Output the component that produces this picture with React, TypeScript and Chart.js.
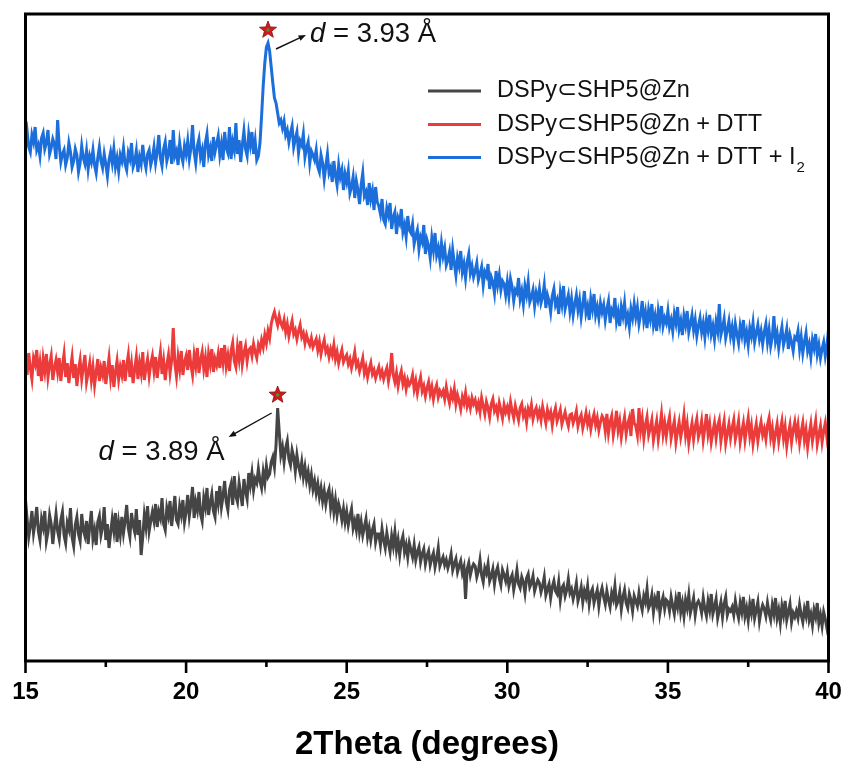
import React, { useEffect, useRef } from 'react';
import { Chart, registerables } from 'chart.js';

Chart.register(...registerables);

// 2θ scan: 15° to 40° in 0.05° steps (501 points per pattern)
const THETA_START = 15;
const THETA_STEP = 0.05;

const X_TICKS = [15, 20, 25, 30, 35, 40];
const X_MINOR_TICKS = [17.5, 22.5, 27.5, 32.5, 37.5];
const X_TITLE = '2Theta (degrees)';

const SERIES_NAMES = ['DSPy⊂SHP5@Zn', 'DSPy⊂SHP5@Zn + DTT', 'DSPy⊂SHP5@Zn + DTT + I'];
const SERIES_SUBSCRIPTS = ['', '', '2'];
const SERIES_COLORS = ['#454545', '#ec3b3b', '#1c6fdb'];

// Offset intensities (a.u.), one row per degree
const znPattern = [
  161, 142, 124, 135, 150, 128, 139, 154, 130, 121, 142, 134, 150, 120, 129, 146, 137, 117, 133, 147,
  130, 122, 141, 149, 126, 118, 138, 132, 153, 124, 115, 136, 144, 127, 120, 147, 131, 125, 140, 117,
  135, 150, 122, 131, 116, 139, 145, 126, 134, 154, 121, 137, 113, 128, 142, 130, 148, 119, 138, 126,
  144, 128, 140, 156, 133, 124, 148, 136, 129, 152, 126, 141, 106, 124, 146, 134, 155, 130, 140, 149,
  140, 157, 134, 149, 143, 163, 137, 131, 153, 145, 160, 135, 150, 165, 141, 137, 155, 146, 161, 139,
  149, 166, 145, 157, 174, 143, 159, 151, 169, 147, 140, 163, 154, 173, 146, 158, 167, 150, 144, 170,
  158, 175, 154, 165, 180, 159, 151, 171, 177, 156, 185, 165, 159, 178, 167, 155, 182, 170, 162, 188,
  176, 188, 171, 182, 178, 192, 180, 173, 189, 178, 195, 184, 187, 199, 204, 194, 216, 253, 229, 206,
  214, 199, 213, 220, 202, 196, 211, 204, 190, 206, 195, 188, 199, 184, 194, 181, 189, 176, 186, 172,
  180, 168, 177, 164, 173, 160, 170, 157, 167, 172, 153, 164, 149, 161, 146, 157, 151, 141, 152, 139,
  149, 136, 145, 152, 133, 140, 131, 147, 129, 139, 126, 134, 142, 124, 133, 121, 131, 137, 119, 127,
  127, 116, 132, 121, 113, 128, 118, 109, 125, 115, 129, 111, 121, 106, 119, 125, 109, 116, 104, 118,
  111, 104, 116, 101, 109, 114, 99, 107, 112, 97, 105, 110, 96, 103, 108, 94, 102, 113, 95, 100,
  104, 96, 101, 93, 99, 107, 91, 97, 102, 89, 95, 100, 88, 94, 62, 92, 98, 86, 93, 97,
  95, 84, 90, 101, 86, 79, 93, 88, 97, 80, 85, 92, 77, 89, 94, 83, 76, 91, 86, 80,
  89, 75, 82, 86, 71, 80, 91, 77, 73, 84, 79, 68, 83, 87, 74, 78, 85, 70, 76, 81,
  78, 69, 75, 84, 66, 72, 77, 63, 74, 80, 70, 67, 79, 61, 73, 76, 65, 71, 82, 68,
  72, 62, 69, 78, 60, 66, 74, 59, 70, 64, 75, 57, 68, 72, 58, 65, 71, 55, 67, 73,
  64, 57, 70, 61, 54, 68, 62, 75, 56, 60, 69, 52, 64, 71, 58, 53, 67, 61, 50, 65,
  60, 55, 68, 58, 51, 65, 59, 72, 53, 57, 66, 49, 62, 56, 70, 48, 58, 64, 52, 61,
  59, 50, 64, 55, 47, 62, 54, 69, 49, 58, 45, 61, 53, 66, 48, 55, 63, 46, 57, 60,
  56, 48, 63, 52, 45, 60, 51, 67, 47, 54, 62, 43, 51, 59, 44, 57, 64, 46, 52, 50,
  54, 46, 60, 50, 43, 58, 49, 64, 45, 53, 41, 57, 48, 62, 43, 51, 59, 40, 50, 56,
  52, 45, 58, 48, 41, 56, 47, 63, 43, 51, 38, 55, 46, 60, 41, 49, 57, 39, 48, 44,
  50, 43, 56, 46, 39, 52, 45, 60, 41, 47, 36, 51, 44, 58, 38, 46, 35, 49, 42, 33,
  40,
];

const dttPattern = [
  300, 286, 308, 293, 282, 303, 297, 311, 285, 298, 280, 302, 290, 307, 284, 296, 305, 281, 293, 301,
  289, 303, 280, 295, 307, 284, 298, 278, 292, 304, 283, 297, 275, 291, 301, 282, 294, 306, 279, 288,
  298, 281, 294, 276, 289, 302, 280, 293, 286, 300, 277, 290, 303, 283, 296, 274, 289, 300, 282, 294,
  286, 301, 280, 295, 306, 284, 297, 278, 292, 304, 282, 298, 288, 309, 281, 293, 302, 285, 297, 305,
  290, 304, 283, 297, 309, 287, 300, 281, 296, 306, 288, 301, 333, 298, 285, 304, 292, 310, 286, 299,
  305, 291, 311, 296, 286, 306, 295, 313, 288, 301, 309, 292, 303, 284, 307, 297, 312, 289, 302, 296,
  307, 293, 313, 299, 316, 295, 305, 290, 310, 318, 300, 294, 314, 302, 320, 297, 308, 315, 300, 311,
  313, 305, 317, 309, 303, 316, 311, 321, 314, 326, 318, 330, 323, 337, 344, 349, 342, 336, 345, 338,
  334, 341, 329, 337, 325, 333, 340, 327, 331, 322, 330, 336, 324, 328, 318, 326, 320, 316, 323, 314,
  318, 322, 311, 319, 307, 315, 321, 309, 313, 304, 312, 306, 316, 302, 309, 298, 305, 311, 299, 303,
  306, 297, 302, 293, 300, 309, 295, 299, 290, 296, 303, 288, 294, 284, 292, 298, 287, 291, 283, 289,
  294, 285, 290, 282, 288, 293, 280, 289, 308, 286, 279, 288, 275, 284, 290, 277, 283, 272, 281, 276,
  279, 286, 272, 280, 268, 277, 284, 270, 275, 265, 273, 279, 267, 274, 262, 271, 276, 264, 270, 266,
  270, 262, 274, 265, 258, 269, 263, 272, 257, 266, 260, 252, 264, 258, 268, 255, 261, 253, 263, 257,
  261, 252, 258, 249, 263, 255, 247, 259, 253, 244, 257, 262, 250, 254, 246, 258, 251, 243, 256, 249,
  254, 246, 259, 250, 243, 255, 248, 241, 253, 257, 245, 250, 239, 252, 247, 256, 242, 249, 253, 244,
  250, 241, 254, 246, 238, 251, 244, 249, 236, 247, 253, 240, 245, 251, 237, 243, 249, 241, 235, 246,
  247, 238, 243, 250, 235, 242, 246, 233, 240, 248, 237, 244, 232, 241, 247, 236, 243, 231, 239, 245,
  242, 230, 247, 228, 239, 245, 226, 236, 250, 231, 240, 224, 235, 244, 227, 237, 243, 225, 252, 238,
  235, 226, 253, 231, 242, 223, 236, 244, 226, 233, 241, 221, 231, 240, 222, 234, 247, 227, 238, 225,
  236, 244, 223, 232, 240, 219, 230, 239, 224, 233, 246, 226, 237, 218, 229, 238, 222, 234, 242, 224,
  230, 240, 221, 233, 247, 227, 237, 219, 229, 238, 223, 235, 241, 220, 231, 240, 218, 228, 237, 223,
  233, 241, 222, 230, 240, 219, 229, 238, 221, 233, 243, 225, 235, 217, 228, 237, 220, 231, 239, 226,
  232, 222, 236, 243, 224, 233, 217, 228, 237, 220, 231, 240, 223, 234, 215, 227, 236, 219, 231, 239,
  226, 236, 218, 229, 238, 221, 231, 214, 227, 237, 220, 230, 240, 217, 226, 235, 219, 230, 238, 224,
  236,
];

const dttI2Pattern = [
  521, 530, 514, 509, 526, 519, 534, 511, 516, 505, 523, 528, 512, 518, 531, 507, 513, 522, 517, 502,
  541, 515, 499, 507, 511, 496, 503, 518, 509, 494, 500, 512, 506, 489, 498, 515, 503, 497, 510, 492,
  505, 499, 511, 496, 488, 503, 514, 500, 493, 507, 497, 485, 501, 509, 498, 512, 494, 503, 490, 506,
  500, 513, 497, 491, 508, 502, 518, 494, 499, 510, 489, 504, 497, 516, 501, 493, 507, 511, 496, 503,
  514, 498, 509, 526, 503, 495, 512, 519, 500, 507, 521, 497, 531, 505, 510, 496, 518, 506, 499, 515,
  507, 520, 502, 513, 536, 509, 498, 515, 522, 504, 511, 494, 518, 527, 506, 513, 500, 524, 509, 517,
  525, 506, 517, 501, 529, 513, 508, 534, 502, 519, 511, 538, 507, 521, 499, 516, 530, 512, 505, 527,
  516, 529, 507, 520, 501, 505, 518, 545, 575, 598, 614, 618, 610, 594, 578, 563, 558, 548, 538, 541,
  533, 540, 526, 531, 519, 528, 535, 514, 522, 529, 508, 520, 516, 527, 504, 513, 519, 498, 510, 506,
  501, 511, 494, 489, 506, 498, 482, 495, 507, 488, 493, 479, 500, 486, 476, 496, 484, 491, 471, 487,
  479, 490, 468, 474, 484, 463, 480, 471, 457, 476, 488, 465, 469, 456, 478, 462, 470, 451, 474, 459,
  455, 447, 462, 441, 437, 453, 446, 458, 432, 444, 449, 427, 443, 438, 452, 429, 436, 424, 445, 431,
  428, 437, 417, 425, 431, 412, 424, 419, 436, 407, 421, 415, 403, 423, 411, 428, 406, 413, 401, 418,
  405, 413, 396, 401, 409, 391, 411, 398, 386, 403, 395, 410, 389, 397, 383, 399, 407, 388, 395, 384,
  390, 398, 381, 387, 394, 376, 389, 385, 397, 372, 384, 379, 368, 390, 376, 386, 371, 380, 377, 366,
  379, 365, 382, 374, 360, 371, 368, 383, 362, 370, 357, 375, 366, 379, 359, 364, 371, 355, 368, 361,
  372, 358, 364, 376, 353, 366, 360, 349, 365, 372, 356, 361, 347, 368, 357, 375, 352, 359, 366, 350,
  362, 346, 357, 366, 351, 361, 344, 356, 370, 348, 355, 341, 362, 352, 367, 346, 354, 343, 358, 349,
  356, 341, 352, 360, 338, 351, 347, 363, 340, 349, 335, 354, 345, 358, 339, 346, 334, 352, 343, 357,
  344, 354, 337, 346, 360, 340, 349, 333, 351, 342, 357, 336, 345, 330, 350, 339, 355, 335, 343, 338,
  350, 334, 341, 330, 347, 338, 354, 332, 340, 326, 345, 336, 350, 329, 337, 346, 331, 341, 325, 335,
  343, 329, 338, 324, 341, 331, 346, 327, 335, 322, 339, 330, 357, 326, 333, 342, 323, 331, 340, 325,
  334, 320, 337, 327, 318, 335, 326, 341, 321, 329, 316, 333, 325, 338, 319, 328, 336, 322, 330, 317,
  329, 337, 319, 331, 315, 324, 345, 320, 328, 313, 325, 334, 316, 323, 332, 312, 326, 319, 310, 324,
  322, 330, 312, 324, 308, 319, 328, 310, 317, 304, 321, 313, 327, 307, 316, 303, 312, 319, 305, 315,
  331,
];

const SERIES_VALUES = [znPattern, dttPattern, dttI2Pattern];

// Marked reflections: which pattern, its 2θ, and the d-spacing label
const PEAK_SERIES = [2, 0];
const PEAK_THETA = [22.55, 22.85];
const PEAK_D_LABELS = ['3.93', '3.89'];

const Y_MIN = 0;
const Y_MAX = 647;

const FONT = '"Liberation Sans", Arial, Helvetica, sans-serif';

// frame position inside the 845×767 canvas
const AREA_LEFT = 25.5;
const AREA_RIGHT = 828.5;
const AREA_TOP = 14;
const AREA_BOTTOM = 661;

function toPoints(values: number[]) {
  return values.map((y, i) => ({
    x: Math.round((THETA_START + i * THETA_STEP) * 100) / 100,
    y,
  }));
}

function drawStar(ctx: CanvasRenderingContext2D, cx: number, cy: number) {
  const outer = 9;
  const inner = 3.8;
  ctx.beginPath();
  for (let k = 0; k < 10; k++) {
    const r = k % 2 === 0 ? outer : inner;
    const a = -Math.PI / 2 + (k * Math.PI) / 5;
    const px = cx + r * Math.cos(a);
    const py = cy + r * Math.sin(a);
    if (k === 0) ctx.moveTo(px, py);
    else ctx.lineTo(px, py);
  }
  ctx.closePath();
  ctx.fillStyle = '#d4181c';
  ctx.fill();
  ctx.lineWidth = 0.8;
  ctx.strokeStyle = '#8a0c0c';
  ctx.stroke();
  ctx.beginPath();
  ctx.arc(cx, cy, 1.7, 0, Math.PI * 2);
  ctx.fillStyle = '#3f9a2f';
  ctx.fill();
}

function drawArrow(ctx: CanvasRenderingContext2D, x1: number, y1: number, x2: number, y2: number) {
  const ang = Math.atan2(y2 - y1, x2 - x1);
  const head = 8;
  ctx.strokeStyle = '#111';
  ctx.fillStyle = '#111';
  ctx.lineWidth = 1.4;
  ctx.beginPath();
  ctx.moveTo(x1, y1);
  ctx.lineTo(x2 - Math.cos(ang) * head * 0.8, y2 - Math.sin(ang) * head * 0.8);
  ctx.stroke();
  ctx.beginPath();
  ctx.moveTo(x2, y2);
  ctx.lineTo(x2 - head * Math.cos(ang - 0.38), y2 - head * Math.sin(ang - 0.38));
  ctx.lineTo(x2 - head * Math.cos(ang + 0.38), y2 - head * Math.sin(ang + 0.38));
  ctx.closePath();
  ctx.fill();
}

// "d = x.xx Å" with an italic d; align 'left' or 'right' relative to x
function drawDSpacing(ctx: CanvasRenderingContext2D, value: string, x: number, baseline: number, align: 'left' | 'right') {
  const italic = `italic 27.5px ${FONT}`;
  const upright = `27.5px ${FONT}`;
  const rest = ` = ${value} Å`;
  ctx.font = italic;
  const wD = ctx.measureText('d').width;
  ctx.font = upright;
  const wRest = ctx.measureText(rest).width;
  const start = align === 'left' ? x : x - wD - wRest;
  ctx.fillStyle = '#111';
  ctx.textAlign = 'left';
  ctx.textBaseline = 'alphabetic';
  ctx.font = italic;
  ctx.fillText('d', start, baseline);
  ctx.font = upright;
  ctx.fillText(rest, start + wD, baseline);
}

const decorPlugin = {
  id: 'xrdDecor',
  afterDatasetsDraw(chart: any) {
    const { ctx, chartArea: a, scales } = chart;
    const xs = scales.x;
    const ys = scales.y;
    ctx.save();

    // frame
    ctx.strokeStyle = '#000';
    ctx.lineWidth = 3;
    ctx.strokeRect(a.left, a.top, a.right - a.left, a.bottom - a.top);

    // outward ticks on the bottom axis
    ctx.lineWidth = 2.6;
    ctx.lineCap = 'butt';
    for (const v of X_TICKS) {
      const px = xs.getPixelForValue(v);
      ctx.beginPath();
      ctx.moveTo(px, a.bottom);
      ctx.lineTo(px, a.bottom + 12);
      ctx.stroke();
    }
    for (const v of X_MINOR_TICKS) {
      const px = xs.getPixelForValue(v);
      ctx.beginPath();
      ctx.moveTo(px, a.bottom);
      ctx.lineTo(px, a.bottom + 6);
      ctx.stroke();
    }

    // legend
    const lx0 = 428;
    const lx1 = 481;
    const tx = 497;
    const rows = [91, 124.5, 157.5];
    SERIES_NAMES.forEach((name, i) => {
      const y = rows[i];
      ctx.strokeStyle = SERIES_COLORS[i];
      ctx.lineWidth = 3;
      ctx.beginPath();
      ctx.moveTo(lx0, y);
      ctx.lineTo(lx1, y);
      ctx.stroke();
      ctx.fillStyle = '#111';
      ctx.font = `23.5px ${FONT}`;
      ctx.textAlign = 'left';
      ctx.textBaseline = 'middle';
      ctx.fillText(name, tx, y);
      if (SERIES_SUBSCRIPTS[i]) {
        const w = ctx.measureText(name).width;
        ctx.font = `15px ${FONT}`;
        ctx.fillText(SERIES_SUBSCRIPTS[i], tx + w + 1, y + 10);
      }
    });

    // marked reflections
    PEAK_SERIES.forEach((s, k) => {
      const theta = PEAK_THETA[k];
      const idx = Math.round((theta - THETA_START) / THETA_STEP);
      const px = xs.getPixelForValue(theta);
      const py = ys.getPixelForValue(SERIES_VALUES[s][idx]);
      const sx = px;
      const sy = py - 13;
      drawStar(ctx, sx, sy);
      if (k === 0) {
        drawArrow(ctx, sx + 8, sy + 19, sx + 38, sy + 5);
        drawDSpacing(ctx, PEAK_D_LABELS[k], sx + 42, sy + 12, 'left');
      } else {
        drawArrow(ctx, sx - 6, sy + 18, sx - 49, sy + 42);
        drawDSpacing(ctx, PEAK_D_LABELS[k], sx - 53, sy + 65, 'right');
      }
    });

    ctx.restore();
  },
};

export default function App() {
  const canvasRef = useRef<HTMLCanvasElement>(null);

  useEffect(() => {
    if (!canvasRef.current) return;
    const chart = new Chart(canvasRef.current, {
      type: 'line',
      data: {
        datasets: SERIES_NAMES.map((name, i) => ({
          label: name,
          data: toPoints(SERIES_VALUES[i]),
          borderColor: SERIES_COLORS[i],
          borderWidth: 3,
          pointRadius: 0,
          fill: false,
          tension: 0,
        })),
      },
      options: {
        animation: false,
        responsive: false,
        devicePixelRatio: 1,
        layout: {
          autoPadding: false,
          padding: { left: 0, right: 845 - AREA_RIGHT, top: AREA_TOP, bottom: 0 },
        },
        plugins: {
          legend: { display: false },
          tooltip: { enabled: false },
        },
        scales: {
          x: {
            type: 'linear',
            position: 'bottom',
            min: 15,
            max: 40,
            grid: { display: false, drawTicks: false },
            border: { display: false },
            ticks: {
              stepSize: 5,
              autoSkip: false,
              padding: 17,
              color: '#000',
              font: { family: FONT, size: 24, weight: 'bold' },
              callback: (v: any) => (X_TICKS.includes(Number(v)) ? String(v) : ''),
            },
            title: {
              display: true,
              text: X_TITLE,
              color: '#000',
              font: { family: FONT, size: 33, weight: 'bold' },
              padding: { top: 0, bottom: 2 },
            },
            afterFit: (s: any) => {
              s.height = 767 - AREA_BOTTOM;
              s.paddingLeft = 0;
              s.paddingRight = 0;
            },
          },
          y: {
            type: 'linear',
            min: Y_MIN,
            max: Y_MAX,
            grid: { display: false, drawTicks: false },
            border: { display: false },
            ticks: { display: false },
            afterFit: (s: any) => {
              s.width = AREA_LEFT;
              s.paddingTop = 0;
              s.paddingBottom = 0;
            },
          },
        },
      },
      plugins: [decorPlugin],
    });
    return () => chart.destroy();
  }, []);

  return (
    <div style={{ position: 'absolute', left: 0, top: 0, width: 845, height: 767, background: '#fff' }}>
      <canvas ref={canvasRef} width={845} height={767} style={{ display: 'block', width: 845, height: 767 }} />
    </div>
  );
}
